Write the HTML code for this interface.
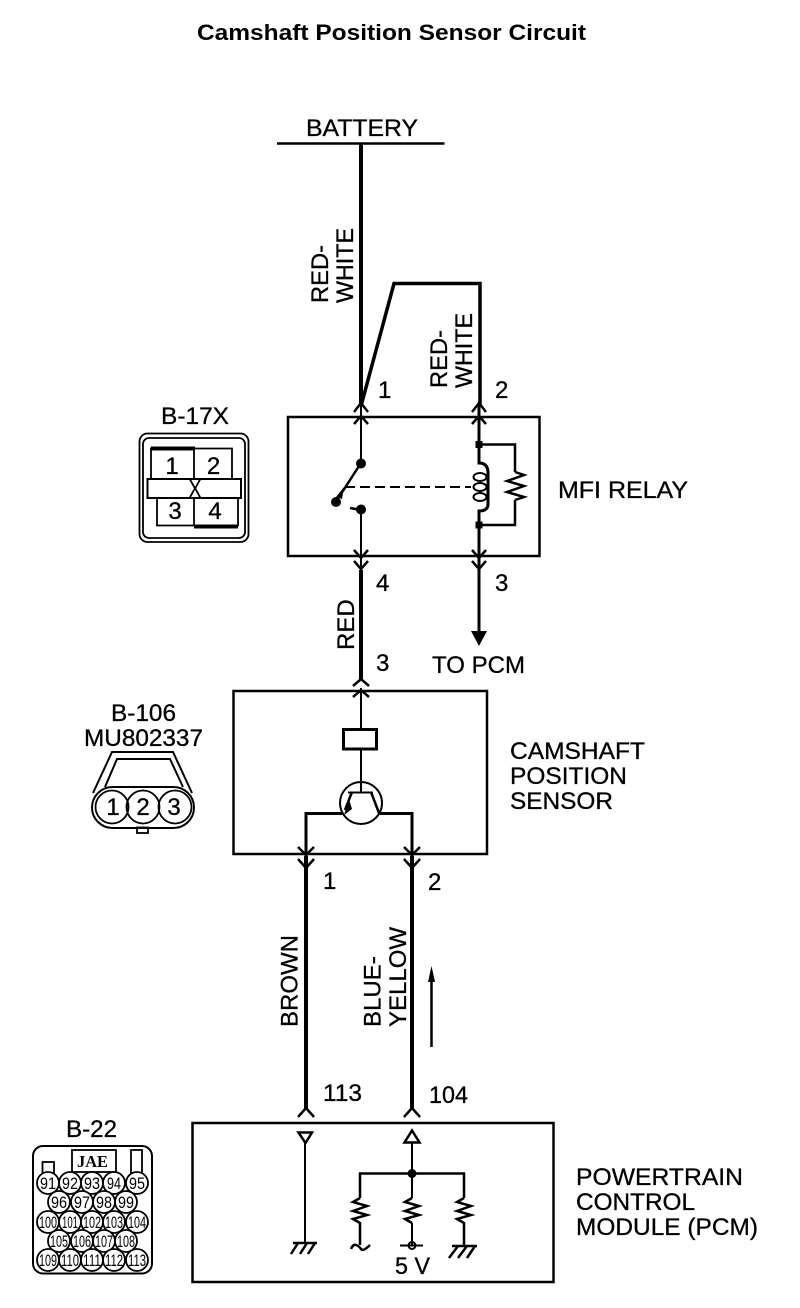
<!DOCTYPE html>
<html><head><meta charset="utf-8"><style>
html,body{margin:0;padding:0;background:#fff}
svg{display:block}
text{font-family:"Liberation Sans",sans-serif;fill:#000}
.t{font-size:24px;stroke:#000;stroke-width:.3px}
</style></head><body>
<svg width="800" height="1308" viewBox="0 0 800 1308" xmlns="http://www.w3.org/2000/svg">
<g fill="none" stroke="#000" stroke-linecap="butt" stroke-linejoin="miter">
<!-- battery -->
<path d="M277 143.500H444.500" stroke-width="2.500"/>
<path d="M361 143V406" stroke-width="4"/>
<path d="M361 406L394 283.500H480V406" stroke-width="3.500"/>
<!-- boxes -->
<rect x="288" y="417" width="251.500" height="139" stroke-width="2.500"/>
<rect x="233.500" y="691" width="253.500" height="163" stroke-width="2.500"/>
<rect x="192.500" y="1123" width="361" height="159" stroke-width="2.500"/>
<!-- connector chevrons -->
<path d="M354 412L361 403L368 412M354 424L361 416L368 424M472 412L479 403L486 412M472 424L479 416L486 424" stroke-width="2.500"/>
<path d="M354 550L361 558L368 550M354 561L361 569L368 561M472 550L479 558L486 550M472 561L479 569L486 561" stroke-width="2.500"/>
<path d="M353 686L361 679L369 686M353 697L361 690L369 697" stroke-width="2.500"/>
<path d="M298 847L306 855L314 847M298 859L306 868L314 859M404 847L412 855L420 847M404 859L412 868L420 859" stroke-width="2.500"/>
<path d="M298 1117L306 1108L314 1117M404 1117L412 1108L420 1117" stroke-width="2.500"/>
<!-- relay left wires -->
<path d="M361 405V463M361 509V570" stroke-width="2"/>
<path d="M361 463L339 497" stroke-width="2.500"/>
<path d="M350 508L361 510" stroke-width="2.500"/>
<path d="M345 487H471" stroke-width="2" stroke-dasharray="10 5"/>
<!-- relay right -->
<path d="M479 405V463Q488 463 488 473V504Q488 511 479 511V575" stroke-width="3"/>
<path d="M479 444.500H515V472M515 500V525H479" stroke-width="2.500"/>
<path d="M515 472L524 475L507 481L524 486L507 492L524 497L515 500" stroke-width="2.500"/>
<ellipse cx="480" cy="477" rx="6.500" ry="4" stroke-width="2"/>
<ellipse cx="480" cy="487" rx="6.500" ry="4" stroke-width="2"/>
<ellipse cx="480" cy="497" rx="6.500" ry="4" stroke-width="2"/>
<!-- to PCM -->
<path d="M479 570V633" stroke-width="3"/>
<!-- red wire -->
<path d="M361 570V680" stroke-width="4"/>
<!-- sensor -->
<path d="M361 688V729M361 750V792" stroke-width="2"/>
<rect x="343.500" y="729.500" width="33" height="19.500" stroke-width="3"/>
<circle cx="361" cy="803" r="21" stroke-width="2"/>
<path d="M348 792.500H373" stroke-width="2"/>
<path d="M352 792L345 810M371 792L379 813" stroke-width="2.500"/>
<path d="M342 813.500H306V856M380 813.500H412V856" stroke-width="3"/>
<!-- lower wires -->
<path d="M306 856V1108M412 856V1108" stroke-width="4"/>
<path d="M431.500 1047V975" stroke-width="2.500"/>
<!-- PCM internals -->
<path d="M298.500 1132.500H312L305.500 1143ZM412 1130.500L419.500 1142.500H404.500Z" stroke-width="2.500"/>
<path d="M305 1143V1243M412 1142V1198M412 1223V1245" stroke-width="2"/>
<path d="M360 1198V1173.500H464V1198" stroke-width="2.500"/>
<path d="M360 1198L353 1202L367 1206L353 1211L367 1215L353 1219L360 1223V1245M412 1198L405 1202L419 1206L405 1211L419 1215L405 1219L412 1223M464 1198L457 1202L471 1206L457 1211L471 1215L457 1219L464 1223V1246" stroke-width="2.500"/>
<path d="M293 1243H317" stroke-width="2.500"/>
<path d="M298 1243L291 1254M307 1243L300 1254M315 1243L308 1254" stroke-width="2.500"/>
<path d="M452 1246H477" stroke-width="2.500"/>
<path d="M458 1246L449 1258M467 1246L458 1258M475 1246L467 1258" stroke-width="2.500"/>
<path d="M351 1249Q353 1244 356 1245T361 1249T370 1245" stroke-width="2.500"/>
<path d="M400 1245.500H423" stroke-width="2"/>
<circle cx="412" cy="1245.500" r="3.500" stroke-width="2"/>
<!-- B-17X -->
<rect x="139.500" y="433.500" width="109" height="108.500" rx="8" stroke-width="1.800"/>
<rect x="143" y="438" width="102" height="100" rx="6" stroke-width="1.800"/>
<path d="M151 479V448.500H232V479M194 449V479M157 499V525.500H238V499M194 499V525" stroke-width="1.800"/>
<rect x="147.500" y="479" width="93.500" height="19" stroke-width="2"/>
<!-- B-106 -->
<path d="M93 793L112 752H173L192 793" stroke-width="2"/>
<path d="M105 787L117 759H170L183 787" stroke-width="2"/>
<rect x="92" y="787" width="102" height="41" rx="20.500" stroke-width="2"/>
<circle cx="112" cy="807" r="16.500" stroke-width="1.800"/>
<circle cx="143" cy="807" r="16.500" stroke-width="1.800"/>
<circle cx="175" cy="807" r="16.500" stroke-width="1.800"/>
<rect x="137" y="827.500" width="11" height="5.500" stroke-width="1.800"/>
<!-- B-22 -->
<rect x="33" y="1146" width="119" height="127.500" rx="10" stroke-width="2"/>
<rect x="42.500" y="1162" width="11.500" height="13" stroke-width="1.800"/>
<rect x="72" y="1150" width="44" height="22" stroke-width="1.800"/>
<rect x="131" y="1150" width="11" height="23" stroke-width="1.800"/>
</g>
<!-- solid -->
<path d="M471 631H487L479 646Z"/>
<path d="M431.500 966L428 982H435Z"/>
<path d="M349 799L344 815L352 809Z"/>
<circle cx="361" cy="463.500" r="5"/>
<circle cx="336" cy="502" r="5"/>
<circle cx="361" cy="509.500" r="5"/>
<path d="M344 487L336 497L342 499Z"/>
<rect x="475.500" y="441" width="7" height="7"/>
<rect x="475.500" y="521.500" width="7" height="7"/>
<circle cx="412" cy="1173.500" r="4.500"/>
<rect x="151" y="446.500" width="44" height="4"/>
<rect x="194" y="524.500" width="44" height="4"/>
<!-- text -->
<text x="197" y="40" font-size="22" font-weight="bold" textLength="389" lengthAdjust="spacingAndGlyphs">Camshaft Position Sensor Circuit</text>
<text class="t" x="306" y="136" textLength="112" lengthAdjust="spacingAndGlyphs">BATTERY</text>
<text class="t" x="558" y="498" textLength="130" lengthAdjust="spacingAndGlyphs">MFI RELAY</text>
<text class="t" x="432" y="673" textLength="93" lengthAdjust="spacingAndGlyphs">TO PCM</text>
<text class="t" x="510" y="759" textLength="135" lengthAdjust="spacingAndGlyphs">CAMSHAFT</text>
<text class="t" x="510" y="784" textLength="117" lengthAdjust="spacingAndGlyphs">POSITION</text>
<text class="t" x="510" y="809" textLength="103" lengthAdjust="spacingAndGlyphs">SENSOR</text>
<text class="t" x="576" y="1185" textLength="167" lengthAdjust="spacingAndGlyphs">POWERTRAIN</text>
<text class="t" x="576" y="1210" textLength="119" lengthAdjust="spacingAndGlyphs">CONTROL</text>
<text class="t" x="576" y="1235" textLength="182" lengthAdjust="spacingAndGlyphs">MODULE (PCM)</text>
<text class="t" x="395" y="1274" textLength="35" lengthAdjust="spacingAndGlyphs">5 V</text>
<text class="t" x="378" y="398">1</text><text class="t" x="495" y="398">2</text>
<text class="t" x="376" y="591">4</text><text class="t" x="495" y="591">3</text>
<text class="t" x="376" y="671">3</text>
<text class="t" x="323" y="889">1</text><text class="t" x="428" y="890">2</text>
<text class="t" x="323" y="1101" textLength="39" lengthAdjust="spacingAndGlyphs">113</text><text class="t" x="429" y="1103" textLength="39" lengthAdjust="spacingAndGlyphs">104</text>
<text class="t" x="161" y="424" textLength="68" lengthAdjust="spacingAndGlyphs">B-17X</text>
<text class="t" x="111" y="721" textLength="65" lengthAdjust="spacingAndGlyphs">B-106</text>
<text class="t" x="84" y="746" textLength="119" lengthAdjust="spacingAndGlyphs">MU802337</text>
<text class="t" x="66" y="1137" textLength="51" lengthAdjust="spacingAndGlyphs">B-22</text>
<text class="t" transform="translate(328,303) rotate(-90)" textLength="58" lengthAdjust="spacingAndGlyphs">RED-</text>
<text class="t" transform="translate(353,303) rotate(-90)" textLength="75" lengthAdjust="spacingAndGlyphs">WHITE</text>
<text class="t" transform="translate(447,388) rotate(-90)" textLength="58" lengthAdjust="spacingAndGlyphs">RED-</text>
<text class="t" transform="translate(472,388) rotate(-90)" textLength="75" lengthAdjust="spacingAndGlyphs">WHITE</text>
<text class="t" transform="translate(354,650) rotate(-90)">RED</text>
<text class="t" transform="translate(297.500,1027) rotate(-90)">BROWN</text>
<text class="t" transform="translate(380.500,1027) rotate(-90)">BLUE-</text>
<text class="t" transform="translate(406,1027) rotate(-90)">YELLOW</text>
<!-- pins -->
<g text-anchor="middle" font-size="24" stroke="#000" stroke-width=".3">
<text x="172" y="474">1</text><text x="213.500" y="474">2</text>
<text x="175" y="519">3</text><text x="215" y="519">4</text>
<text x="113" y="815">1</text><text x="143" y="815">2</text><text x="174" y="815">3</text>
</g>
<text x="188" y="498" font-size="27" textLength="14" lengthAdjust="spacingAndGlyphs">X</text>
<text x="77" y="1167" font-size="17" font-weight="bold" textLength="31" lengthAdjust="spacingAndGlyphs" style="font-family:'Liberation Serif',serif">JAE</text>
<!-- B-22 pins -->
<g fill="#fff" stroke="#000" stroke-width="1.800">
<circle cx="48" cy="1183" r="11"/><circle cx="70" cy="1183" r="11"/><circle cx="92" cy="1183" r="11"/><circle cx="114" cy="1183" r="11"/><circle cx="137" cy="1183" r="11"/>
<circle cx="59" cy="1202" r="11"/><circle cx="82" cy="1202" r="11"/><circle cx="104" cy="1202" r="11"/><circle cx="126" cy="1202" r="11"/>
<circle cx="48" cy="1222" r="11"/><circle cx="70" cy="1222" r="11"/><circle cx="92" cy="1222" r="11"/><circle cx="114" cy="1222" r="11"/><circle cx="137" cy="1222" r="11"/>
<circle cx="59" cy="1241" r="11"/><circle cx="82" cy="1241" r="11"/><circle cx="104" cy="1241" r="11"/><circle cx="126" cy="1241" r="11"/>
<circle cx="48" cy="1260" r="11"/><circle cx="70" cy="1260" r="11"/><circle cx="92" cy="1260" r="11"/><circle cx="114" cy="1260" r="11"/><circle cx="137" cy="1260" r="11"/>
</g>
<g font-size="16.500">
<text x="40" y="1189" textLength="16" lengthAdjust="spacingAndGlyphs">91</text><text x="62" y="1189" textLength="16" lengthAdjust="spacingAndGlyphs">92</text><text x="84" y="1189" textLength="16" lengthAdjust="spacingAndGlyphs">93</text><text x="107" y="1189" textLength="14" lengthAdjust="spacingAndGlyphs">94</text><text x="129" y="1189" textLength="16" lengthAdjust="spacingAndGlyphs">95</text>
<text x="51" y="1208" textLength="16" lengthAdjust="spacingAndGlyphs">96</text><text x="74" y="1208" textLength="16" lengthAdjust="spacingAndGlyphs">97</text><text x="96" y="1208" textLength="16" lengthAdjust="spacingAndGlyphs">98</text><text x="118" y="1208" textLength="16" lengthAdjust="spacingAndGlyphs">99</text>
<text x="39" y="1228" textLength="18" lengthAdjust="spacingAndGlyphs">100</text><text x="62" y="1228" textLength="16" lengthAdjust="spacingAndGlyphs">101</text><text x="83" y="1228" textLength="18" lengthAdjust="spacingAndGlyphs">102</text><text x="105" y="1228" textLength="18" lengthAdjust="spacingAndGlyphs">103</text><text x="128" y="1228" textLength="18" lengthAdjust="spacingAndGlyphs">104</text>
<text x="50" y="1247" textLength="18" lengthAdjust="spacingAndGlyphs">105</text><text x="73" y="1247" textLength="18" lengthAdjust="spacingAndGlyphs">106</text><text x="95" y="1247" textLength="18" lengthAdjust="spacingAndGlyphs">107</text><text x="117" y="1247" textLength="18" lengthAdjust="spacingAndGlyphs">108</text>
<text x="39" y="1266" textLength="18" lengthAdjust="spacingAndGlyphs">109</text><text x="61" y="1266" textLength="18" lengthAdjust="spacingAndGlyphs">110</text><text x="83" y="1266" textLength="18" lengthAdjust="spacingAndGlyphs">111</text><text x="105" y="1266" textLength="18" lengthAdjust="spacingAndGlyphs">112</text><text x="128" y="1266" textLength="18" lengthAdjust="spacingAndGlyphs">113</text>
</g>
</svg>
</body></html>
